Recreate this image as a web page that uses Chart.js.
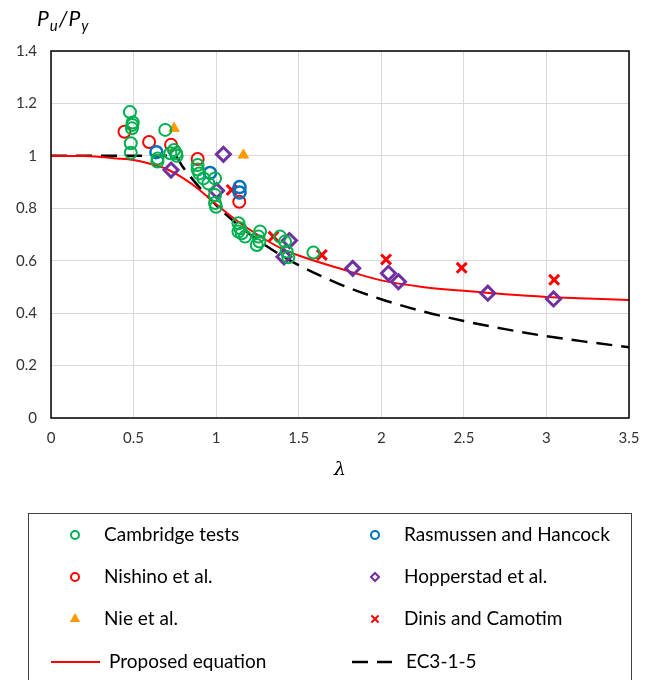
<!DOCTYPE html>
<html>
<head>
<meta charset="utf-8">
<script src="https://cdn.jsdelivr.net/npm/chart.js@4.4.1/dist/chart.umd.min.js"></script>
<style>
  body { margin: 0; background: #fff; }
  #wrap { width: 651px; height: 680px; }
</style>
</head>
<body>
<div id="wrap"><canvas id="chartPu"></canvas></div>
<script>
const chartPu = document.getElementById("chartPu");

// test results, [lambda, Pu/Py]
const cambridge = [
  [0.478, 1.167], [0.495, 1.127], [0.492, 1.118], [0.49, 1.105], [0.483, 1.048], [0.483, 1.012],
  [0.692, 1.099], [0.644, 0.978], [0.646, 0.99], [0.723, 1.01], [0.745, 1.022], [0.757, 1.01],
  [0.761, 1.0], [0.888, 0.965], [0.888, 0.948], [0.898, 0.933], [0.923, 0.914], [0.953, 0.895],
  [0.993, 0.914], [0.993, 0.851], [0.999, 0.806], [0.993, 0.82], [1.135, 0.743], [1.145, 0.724],
  [1.155, 0.705], [1.175, 0.692], [1.135, 0.711], [1.266, 0.711], [1.256, 0.692], [1.262, 0.673],
  [1.246, 0.66], [1.387, 0.692], [1.417, 0.673], [1.427, 0.635], [1.437, 0.613], [1.589, 0.631]
];
const rasmussen = [[0.638, 1.014], [0.963, 0.935], [1.142, 0.881], [1.142, 0.86]];
const nishino = [[0.445, 1.092], [0.594, 1.053], [0.727, 1.042], [0.888, 0.988], [1.14, 0.825]];
const hopperstad = [
  [0.727, 0.946], [1.044, 1.006], [1.003, 0.867], [1.444, 0.677], [1.411, 0.615],
  [1.827, 0.571], [2.043, 0.552], [2.104, 0.52], [2.645, 0.476], [3.043, 0.454]
];
const nie = [[0.745, 1.105], [1.165, 1.003]];
const dinis = [[1.094, 0.87], [1.347, 0.692], [1.64, 0.622], [2.029, 0.605], [2.487, 0.573], [3.047, 0.527]];

// design curves
const proposedX = [0, 0.2, 0.4, 0.5, 0.6, 0.7, 0.8, 0.9, 1.0, 1.1, 1.2, 1.3, 1.4, 1.5, 1.75, 2.0, 2.25, 2.5, 2.75, 3.0, 3.25, 3.5];
const proposedY = [1.0, 0.999, 0.99, 0.984, 0.97, 0.95, 0.915, 0.87, 0.815, 0.765, 0.72, 0.68, 0.645, 0.62, 0.57, 0.525, 0.5, 0.485, 0.472, 0.462, 0.456, 0.45];
const ec3X = [0, 0.748, 0.8, 0.9, 1.0, 1.1, 1.2, 1.3, 1.4, 1.5, 1.75, 2.0, 2.25, 2.5, 2.75, 3.0, 3.25, 3.5];
const ec3Y = [1.0, 1.0, 0.956, 0.879, 0.812, 0.754, 0.703, 0.658, 0.618, 0.583, 0.51, 0.453, 0.407, 0.37, 0.339, 0.312, 0.29, 0.27];

const xTicks = [0, 0.5, 1, 1.5, 2, 2.5, 3, 3.5];
const yTicks = [0, 0.2, 0.4, 0.6, 0.8, 1, 1.2, 1.4];

const toXY = arr => arr.map(p => ({ x: p[0], y: p[1] }));
const zipXY = (xs, ys) => xs.map((x, i) => ({ x: x, y: ys[i] }));

const font = "Lato, 'Open Sans', sans-serif";

// legend in two columns, like the original
const legendLayout = [
  { label: "Cambridge tests", ds: 0, x: 75, y: 535 },
  { label: "Rasmussen and Hancock", ds: 1, x: 375, y: 535 },
  { label: "Nishino et al.", ds: 2, x: 75, y: 577 },
  { label: "Hopperstad et al.", ds: 3, x: 375, y: 577 },
  { label: "Nie et al.", ds: 4, x: 75, y: 619 },
  { label: "Dinis and Camotim", ds: 5, x: 375, y: 619 },
  { label: "Proposed equation", ds: 6, x: 75, y: 662 },
  { label: "EC3-1-5", ds: 7, x: 375, y: 662 }
];

const extras = {
  id: "extras",
  afterDraw(chart) {
    const ctx = chart.ctx;
    const a = chart.chartArea;
    ctx.save();
    // plot frame
    ctx.strokeStyle = "#000";
    ctx.lineWidth = 1.5;
    ctx.strokeRect(a.left, a.top, a.right - a.left, a.bottom - a.top);

    // y title Pu/Py
    ctx.fillStyle = "#000";
    ctx.textBaseline = "alphabetic";
    ctx.textAlign = "left";
    let x = 37;
    const base = 26;
    const parts = [["P", 21, 0], ["u", 15, 5], ["/", 21, 0], ["P", 21, 0], ["y", 15, 5]];
    parts.forEach(p => {
      ctx.font = "italic " + p[1] + "px " + font;
      ctx.fillText(p[0], x, base + p[2]);
      x += ctx.measureText(p[0]).width + 1;
    });

    // legend box
    ctx.strokeStyle = "#404040";
    ctx.lineWidth = 1;
    ctx.strokeRect(28.5, 513.5, 603, 200);
    ctx.font = "19px " + font;
    ctx.textBaseline = "middle";
    legendLayout.forEach(item => {
      const ds = chart.data.datasets[item.ds];
      let textX = item.x + 29;
      if (ds.showLine) {
        ctx.strokeStyle = ds.borderColor;
        ctx.lineWidth = ds.borderWidth;
        ctx.setLineDash(ds.borderDash || []);
        ctx.beginPath();
        if (ds.borderDash) {
          ctx.moveTo(item.x - 23, item.y);
          ctx.lineTo(item.x + 17, item.y);
          textX = item.x + 31;
        } else {
          ctx.moveTo(item.x - 24, item.y);
          ctx.lineTo(item.x + 25, item.y);
          textX = item.x + 34;
        }
        ctx.stroke();
        ctx.setLineDash([]);
      } else {
        ctx.strokeStyle = ds.borderColor;
        ctx.fillStyle = ds.backgroundColor;
        ctx.lineWidth = 2;
        Chart.helpers.drawPoint(ctx, {
          pointStyle: ds.pointStyle,
          radius: ds.pointStyle === "crossRot" ? 5 : 4,
          rotation: 0,
          borderWidth: 2
        }, item.x, item.y);
      }
      ctx.fillStyle = "#000";
      ctx.fillText(item.label, textX, item.y);
    });
    ctx.restore();
  }
};

new Chart(chartPu, {
  type: "scatter",
  data: {
    datasets: [
      {
        label: "Cambridge tests",
        data: toXY(cambridge),
        pointStyle: "circle",
        pointRadius: 6,
        borderWidth: 2,
        borderColor: "#00B050",
        backgroundColor: "rgba(0,0,0,0)",
        order: 1
      },
      {
        label: "Rasmussen and Hancock",
        data: toXY(rasmussen),
        pointStyle: "circle",
        pointRadius: 6,
        borderWidth: 2.5,
        borderColor: "#0070C0",
        backgroundColor: "rgba(0,0,0,0)",
        order: 1
      },
      {
        label: "Nishino et al.",
        data: toXY(nishino),
        pointStyle: "circle",
        pointRadius: 6,
        borderWidth: 2,
        borderColor: "#FF0000",
        backgroundColor: "rgba(0,0,0,0)",
        order: 1
      },
      {
        label: "Hopperstad et al.",
        data: toXY(hopperstad),
        pointStyle: "rectRot",
        pointRadius: 7,
        borderWidth: 3,
        borderColor: "#7030A0",
        backgroundColor: "rgba(0,0,0,0)",
        order: 1
      },
      {
        label: "Nie et al.",
        data: toXY(nie),
        pointStyle: "triangle",
        pointRadius: 6,
        borderWidth: 1,
        borderColor: "#FF9900",
        backgroundColor: "#FF9900",
        order: 1
      },
      {
        label: "Dinis and Camotim",
        data: toXY(dinis),
        pointStyle: "crossRot",
        pointRadius: 7,
        borderWidth: 3,
        borderColor: "#FF0000",
        backgroundColor: "#FF0000",
        order: 1
      },
      {
        label: "Proposed equation",
        data: zipXY(proposedX, proposedY),
        showLine: true,
        pointRadius: 0,
        borderWidth: 2,
        borderColor: "#FF0000",
        cubicInterpolationMode: "monotone",
        order: 10
      },
      {
        label: "EC3-1-5",
        data: zipXY(ec3X, ec3Y),
        showLine: true,
        pointRadius: 0,
        borderWidth: 2.5,
        borderColor: "#000",
        borderDash: [16, 9],
        cubicInterpolationMode: "monotone",
        order: 11
      }
    ]
  },
  options: {
    responsive: true,
    maintainAspectRatio: false,
    animation: false,
    layout: { padding: { left: 0, top: 51, right: 22, bottom: 199 } },
    plugins: {
      legend: { display: false },
      tooltip: { enabled: false }
    },
    scales: {
      x: {
        type: "linear",
        min: 0,
        max: 3.5,
        afterFit: s => { s.height = 63; },
        afterBuildTicks: s => { s.ticks = xTicks.map(v => ({ value: v })); },
        grid: { color: "#d9d9d9", lineWidth: 1, drawTicks: false },
        border: { display: false },
        ticks: { color: "#333", font: { family: font, size: 15 }, padding: 11, callback: v => String(v) },
        title: {
          display: true,
          text: "λ",
          color: "#000",
          font: { family: "'DejaVu Serif', serif", size: 19, style: "italic" },
          padding: { top: 8, bottom: 0 }
        }
      },
      y: {
        type: "linear",
        min: 0,
        max: 1.4,
        afterFit: s => { s.width = 51; },
        afterBuildTicks: s => { s.ticks = yTicks.map(v => ({ value: v })); },
        grid: { color: "#d9d9d9", lineWidth: 1, drawTicks: false },
        border: { display: false },
        ticks: { color: "#333", font: { family: font, size: 15 }, padding: 14, callback: v => String(v) }
      }
    }
  },
  plugins: [extras]
});
</script>
</body>
</html>
